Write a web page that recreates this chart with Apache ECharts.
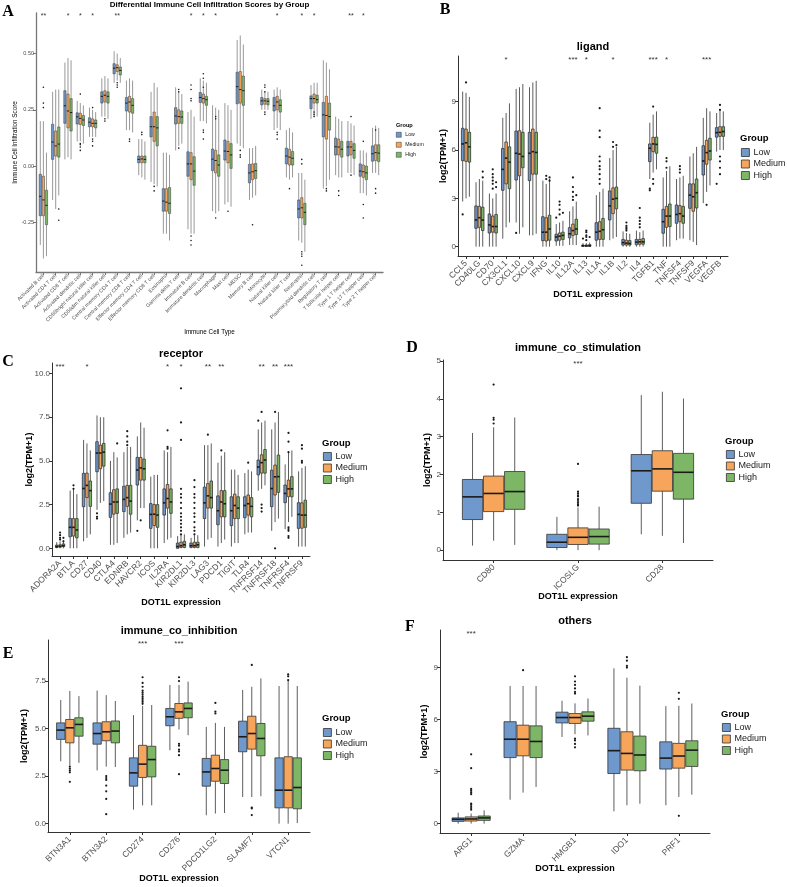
<!DOCTYPE html>
<html>
<head>
<meta charset="utf-8">
<title>DOT1L immune boxplots</title>
<script src="https://cdn.jsdelivr.net/npm/echarts@6.0.0/dist/echarts.min.js"></script>
<style>
  html, body { margin: 0; padding: 0; background: #fff; }
  #chart { width: 787px; height: 887px; }
</style>
</head>
<body>
<div id="chart"></div>
<script>
// groups & colours
const GROUPS = ['Low', 'Medium', 'High']
const COLORS = ['#6f98cc', '#f6a55b', '#7db766']

// ---- A: immune cell infiltration (box = [min, q1, median, q3, max])
const catsA = ['Activated B cell', 'Activated CD4 T cell', 'Activated CD8 T cell', 'Activated dendritic cell',
  'CD56bright natural killer cell', 'CD56dim natural killer cell', 'Central memory CD4 T cell', 'Central memory CD8 T cell',
  'Effector memory CD4 T cell', 'Effector memory CD8 T cell', 'Eosinophil', 'Gamma delta T cell', 'Immature B cell',
  'Immature dendritic cell', 'Macrophage', 'Mast cell', 'MDSC', 'Memory B cell', 'Monocyte', 'Natural killer cell',
  'Natural killer T cell', 'Neutrophil', 'Plasmacytoid dendritic cell', 'Regulatory T cell', 'T follicular helper cell',
  'Type 1 T helper cell', 'Type 17 T helper cell', 'Type 2 T helper cell']
const lowA = [[-0.35, -0.22, -0.134, -0.036, 0.2], [-0.15, 0.03, 0.107, 0.186, 0.33], [0.03, 0.19, 0.268, 0.335, 0.46],
  [0.11, 0.187, 0.219, 0.237, 0.29], [0.13, 0.175, 0.195, 0.215, 0.26], [0.22, 0.28, 0.31, 0.33, 0.39],
  [0.37, 0.41, 0.435, 0.455, 0.51], [0.16, 0.245, 0.28, 0.305, 0.38], [-0.04, 0.015, 0.03, 0.045, 0.12],
  [-0.07, 0.13, 0.175, 0.22, 0.33], [-0.3, -0.2, -0.155, -0.1, 0.06], [0.07, 0.187, 0.223, 0.26, 0.35],
  [-0.28, -0.045, 0.01, 0.064, 0.24], [0.2, 0.283, 0.305, 0.327, 0.39], [-0.2, -0.02, 0.031, 0.076, 0.27],
  [-0.17, 0.027, 0.067, 0.116, 0.28], [0.1, 0.277, 0.353, 0.417, 0.56], [-0.15, -0.074, -0.03, 0.008, 0.08],
  [0.25, 0.272, 0.29, 0.305, 0.34], [0.16, 0.245, 0.268, 0.305, 0.34], [-0.05, 0.01, 0.045, 0.08, 0.16],
  [-0.33, -0.23, -0.19, -0.15, -0.03], [0.21, 0.255, 0.3, 0.312, 0.36], [-0.1, 0.13, 0.228, 0.283, 0.47],
  [-0.04, 0.049, 0.086, 0.125, 0.22], [-0.03, 0.045, 0.085, 0.11, 0.2], [-0.12, -0.045, -0.022, 0.01, 0.07],
  [-0.03, 0.022, 0.055, 0.09, 0.17]]
const medA = [[-0.41, -0.22, -0.15, -0.045, 0.2], [-0.19, 0.045, 0.09, 0.156, 0.34], [0.04, 0.17, 0.245, 0.32, 0.48],
  [0.11, 0.185, 0.212, 0.235, 0.28], [0.13, 0.175, 0.19, 0.21, 0.25], [0.22, 0.285, 0.315, 0.335, 0.4],
  [0.38, 0.42, 0.437, 0.45, 0.5], [0.16, 0.24, 0.285, 0.31, 0.39], [-0.05, 0.015, 0.032, 0.045, 0.12],
  [-0.08, 0.11, 0.175, 0.24, 0.37], [-0.3, -0.2, -0.16, -0.1, 0.06], [0.09, 0.19, 0.22, 0.25, 0.33],
  [-0.3, -0.06, 0.01, 0.06, 0.25], [0.2, 0.28, 0.3, 0.32, 0.38], [-0.21, -0.03, 0.025, 0.07, 0.26],
  [-0.16, 0.015, 0.065, 0.11, 0.27], [0.09, 0.28, 0.34, 0.42, 0.58], [-0.14, -0.06, -0.025, 0.01, 0.08],
  [0.25, 0.275, 0.29, 0.3, 0.33], [0.17, 0.25, 0.285, 0.31, 0.35], [-0.06, 0.005, 0.04, 0.075, 0.17],
  [-0.34, -0.23, -0.185, -0.14, -0.03], [0.22, 0.28, 0.3, 0.32, 0.37], [-0.09, 0.12, 0.225, 0.31, 0.46],
  [-0.05, 0.05, 0.085, 0.12, 0.21], [-0.03, 0.05, 0.085, 0.11, 0.19], [-0.12, -0.05, -0.025, 0.005, 0.07],
  [-0.03, 0.025, 0.06, 0.095, 0.18]]
const highA = [[-0.4, -0.26, -0.174, -0.107, 0.06], [-0.13, 0.04, 0.098, 0.174, 0.34], [0.03, 0.156, 0.238, 0.3, 0.47],
  [0.1, 0.18, 0.205, 0.225, 0.27], [0.13, 0.17, 0.19, 0.205, 0.24], [0.21, 0.28, 0.31, 0.33, 0.39],
  [0.37, 0.405, 0.425, 0.44, 0.48], [0.15, 0.235, 0.27, 0.3, 0.38], [-0.06, 0.015, 0.03, 0.045, 0.11],
  [-0.09, 0.09, 0.17, 0.22, 0.35], [-0.33, -0.21, -0.165, -0.095, 0.05], [0.1, 0.19, 0.218, 0.245, 0.32],
  [-0.3, -0.085, -0.022, 0.042, 0.22], [0.19, 0.27, 0.295, 0.31, 0.37], [-0.2, -0.045, 0.005, 0.05, 0.25],
  [-0.18, -0.01, 0.05, 0.1, 0.25], [0.08, 0.27, 0.335, 0.4, 0.54], [-0.13, -0.055, -0.02, 0.012, 0.09],
  [0.25, 0.272, 0.288, 0.3, 0.33], [0.16, 0.24, 0.27, 0.295, 0.34], [-0.05, 0.005, 0.035, 0.065, 0.15],
  [-0.38, -0.26, -0.205, -0.165, -0.06], [0.22, 0.28, 0.295, 0.315, 0.37], [-0.06, 0.16, 0.22, 0.28, 0.43],
  [-0.05, 0.04, 0.075, 0.11, 0.2], [-0.04, 0.035, 0.07, 0.1, 0.18], [-0.13, -0.06, -0.03, 0.0, 0.06],
  [-0.04, 0.02, 0.058, 0.095, 0.17]]
const sigA = ['**', '', '*', '*', '*', '', '**', '', '', '', '', '', '*', '*', '*', '', '', '', '', '*', '', '*', '*', '', '', '**', '*', '']
// outliers: [category, value, group]
const outA = [[0, 0.35, 1], [0, 0.28, 1], [0, 0.26, 1], [1, -0.19, 2], [1, -0.24, 2], [3, 0.32, 1], [3, 0.1, 1], [3, 0.095, 1],
  [3, 0.085, 1], [3, 0.07, 1], [4, 0.26, 1], [4, 0.12, 1], [4, 0.11, 1], [4, 0.09, 1], [5, 0.2, 1], [5, 0.21, 1],
  [6, 0.37, 1], [6, 0.36, 1], [6, 0.35, 1], [7, 0.12, 1], [7, 0.11, 1], [8, 0.15, 1], [8, 0.14, 1], [9, -0.09, 1],
  [9, -0.11, 1], [11, 0.34, 1], [11, 0.33, 1], [11, 0.08, 1], [12, 0.36, 1], [12, 0.34, 1], [12, 0.3, 1], [12, 0.29, 1],
  [12, -0.31, 1], [12, -0.33, 1], [12, -0.35, 1], [13, 0.41, 1], [13, 0.39, 1], [13, 0.35, 1], [13, 0.16, 1],
  [13, 0.15, 1], [13, 0.12, 1], [14, 0.22, 1], [14, 0.21, 1], [14, -0.23, 1], [15, -0.2, 1], [16, 0.07, 1],
  [16, 0.05, 1], [16, 0.04, 1], [17, -0.26, 1], [18, 0.36, 1], [18, 0.35, 1], [18, 0.33, 1], [18, 0.24, 1],
  [18, 0.23, 1], [19, 0.15, 1], [19, 0.14, 1], [19, 0.12, 1], [20, -0.1, 1], [21, 0.03, 1], [21, 0.01, 1],
  [21, -0.38, 1], [21, -0.39, 1], [21, -0.4, 1], [21, -0.44, 1], [22, 0.24, 1], [22, 0.23, 1], [22, 0.22, 1],
  [23, -0.1, 1], [23, -0.11, 1], [24, -0.11, 1], [24, -0.13, 1], [25, 0.22, 1], [25, -0.04, 1], [26, 0.11, 1],
  [26, -0.17, 1], [26, -0.23, 1], [27, 0.16, 1], [27, -0.1, 1], [27, -0.12, 1]]
const ticksA = [-0.25, 0, 0.25, 0.5]

// ---- B: ligand
const catsB = ['CCL5', 'CD40LG', 'CD70', 'CX3CL1', 'CXCL10', 'CXCL9', 'IFNG', 'IL10', 'IL12A', 'IL13', 'IL1A', 'IL1B',
  'IL2', 'IL4', 'TGFB1', 'TNF', 'TNFSF4', 'TNFSF9', 'VEGFA', 'VEGFB']
const lowB = [[2.8, 5.34, 6.38, 7.35, 9.63], [0, 1.14, 1.66, 2.53, 4.0], [0, 0.85, 1.35, 2.03, 3.3], [0.5, 3.5, 4.8, 6.1, 8.0],
  [1.5, 4.14, 5.8, 7.18, 9.8], [0.7, 4.1, 5.8, 7.1, 9.9], [0, 0.37, 0.9, 1.86, 4.1], [0.05, 0.35, 0.6, 0.77, 1.4],
  [0.1, 0.55, 0.8, 1.18, 2.2], [0, 0.02, 0.05, 0.1, 0.22], [0, 0.4, 0.9, 1.49, 3.2], [0.4, 1.66, 2.53, 3.46, 5.5],
  [0, 0.1, 0.25, 0.45, 0.95], [0, 0.12, 0.28, 0.45, 1.0], [4.2, 5.28, 6.11, 6.38, 7.7], [0, 0.83, 1.55, 2.32, 4.3],
  [0.4, 1.45, 2.0, 2.59, 4.2], [0.4, 2.38, 3.2, 3.9, 5.6], [2.7, 4.45, 5.32, 6.27, 8.0], [5.9, 6.8, 7.08, 7.39, 8.3]]
const medB = [[3.0, 5.3, 6.45, 7.3, 9.55], [0, 1.2, 1.8, 2.5, 4.2], [0, 0.9, 1.25, 1.9, 3.0], [1.2, 3.9, 5.5, 6.5, 8.3],
  [0.8, 4.4, 5.75, 7.2, 9.9], [0.7, 4.5, 5.9, 7.3, 10.2], [0, 0.35, 0.9, 1.8, 3.9], [0.05, 0.4, 0.65, 0.85, 1.5],
  [0.1, 0.7, 1.0, 1.4, 2.5], [0, 0.02, 0.05, 0.1, 0.22], [0, 0.45, 0.95, 1.55, 3.4], [0.5, 2.05, 2.95, 3.65, 6.0],
  [0, 0.1, 0.22, 0.4, 0.85], [0, 0.15, 0.3, 0.45, 0.9], [4.6, 5.9, 6.38, 6.79, 8.2], [0, 1.2, 1.9, 2.5, 4.7],
  [0.5, 1.55, 2.05, 2.55, 4.3], [0.3, 2.2, 3.1, 3.9, 5.8], [3.4, 5.12, 5.84, 6.6, 8.6], [6.0, 6.85, 7.1, 7.45, 8.5]]
const highB = [[3.1, 5.25, 6.2, 7.1, 9.3], [0, 1.0, 1.65, 2.45, 4.1], [0, 0.85, 1.25, 2.0, 3.3], [1.5, 3.6, 5.25, 6.2, 8.9],
  [1.2, 4.9, 5.6, 7.1, 10.1], [0.8, 4.5, 5.85, 7.1, 10.3], [0, 0.4, 1.1, 1.95, 4.2], [0.05, 0.45, 0.7, 0.9, 1.6],
  [0.1, 0.75, 1.1, 1.7, 2.8], [0, 0.02, 0.06, 0.12, 0.25], [0, 0.45, 1.05, 1.75, 3.6], [0.6, 2.35, 3.0, 3.7, 6.2],
  [0, 0.1, 0.2, 0.38, 0.8], [0, 0.15, 0.3, 0.5, 1.0], [4.8, 5.8, 6.35, 6.8, 8.4], [0, 1.25, 1.9, 2.65, 5.0],
  [0.5, 1.45, 1.9, 2.5, 4.4], [0.1, 2.4, 3.35, 4.2, 6.2], [3.8, 5.38, 5.94, 6.73, 8.4], [6.0, 6.85, 7.15, 7.45, 8.4]]
const sigB = ['', '', '', '*', '', '', '', '', '***', '*', '', '*', '', '', '***', '*', '', '', '***', '']
const outB = [[0, 10.2, 1], [0, 2.0, 0], [1, 4.66, 2], [1, 4.3, 2], [2, 4.8, 1], [2, 4.5, 1], [2, 4.3, 1], [2, 4.1, 1],
  [2, 3.9, 1], [2, 3.6, 1], [2, 4.0, 2], [2, 3.7, 2], [4, 0.85, 0], [6, 4.4, 1], [6, 4.2, 1], [6, 4.1, 2], [6, 4.3, 2],
  [7, 2.8, 1], [7, 2.6, 1], [7, 2.3, 1], [7, 2.0, 1], [7, 1.8, 0], [7, 2.1, 2], [8, 4.3, 1], [8, 3.7, 1], [8, 3.4, 1],
  [8, 3.1, 1], [8, 2.9, 1], [8, 3.2, 2], [9, 0.6, 1], [9, 0.7, 1], [9, 0.9, 1], [9, 1.0, 1], [9, 0.4, 1], [9, 0.5, 0],
  [9, 0.6, 2], [10, 8.6, 1], [10, 7.2, 1], [10, 6.8, 1], [10, 5.6, 1], [10, 5.3, 1], [10, 5.0, 1], [10, 4.8, 1],
  [10, 4.5, 1], [10, 4.2, 1], [10, 3.9, 1], [11, 6.3, 2], [11, 6.2, 1], [11, 6.5, 1], [12, 1.5, 1], [12, 1.3, 1],
  [12, 1.2, 1], [12, 1.1, 1], [12, 1.0, 1], [13, 2.4, 1], [13, 1.8, 1], [13, 1.6, 1], [13, 1.4, 1], [13, 1.2, 1],
  [14, 8.7, 1], [14, 3.6, 0], [14, 3.5, 0], [14, 3.9, 1], [14, 4.2, 1], [15, 5.5, 1], [15, 5.3, 1], [15, 4.9, 1],
  [16, 5.0, 1], [16, 4.8, 1], [16, 4.6, 1], [18, 2.6, 1], [19, 8.8, 1], [19, 8.5, 1], [19, 5.6, 1], [19, 5.3, 1],
  [19, 4.9, 1], [19, 4.5, 1], [19, 3.9, 0]]
const ticksB = [0, 3, 6, 9]

// ---- C: receptor
const catsC = ['ADORA2A', 'BTLA', 'CD27', 'CD40', 'CTLA4', 'EDNRB', 'HAVCR2', 'ICOS', 'IL2RA', 'KIR2DL1', 'KIR2DL3',
  'LAG3', 'PDCD1', 'TIGIT', 'TLR4', 'TNFRSF14', 'TNFRSF18', 'TNFRSF4', 'TNFRSF9']
const lowC = [[0, 0.05, 0.1, 0.18, 0.35], [0, 0.66, 1.2, 1.71, 3.3], [0.4, 2.38, 3.42, 4.29, 6.2], [2.2, 4.38, 5.45, 6.1, 7.6],
  [0.2, 1.77, 2.53, 3.18, 5.0], [0.6, 2.1, 2.8, 3.55, 5.5], [1.6, 3.62, 4.48, 5.2, 6.4], [0, 1.14, 1.94, 2.56, 4.1],
  [0.3, 1.9, 2.6, 3.4, 5.6], [0, 0.0, 0.1, 0.3, 0.7], [0, 0.05, 0.15, 0.3, 0.6], [0.1, 1.7, 2.6, 3.5, 5.9],
  [0.1, 1.35, 2.15, 3.0, 4.9], [0.1, 1.3, 2.15, 2.95, 4.5], [0.8, 1.75, 2.45, 2.95, 4.3], [3.3, 4.2, 4.65, 5.05, 6.8],
  [1.0, 2.38, 3.42, 4.47, 6.8], [1.1, 2.61, 3.14, 3.62, 4.8], [0.1, 1.14, 1.94, 2.61, 4.4]]
const medC = [[0, 0.06, 0.12, 0.2, 0.4], [0, 0.7, 1.2, 1.7, 3.4], [0.6, 2.9, 3.6, 4.3, 6.0], [2.6, 4.55, 5.45, 5.9, 7.5],
  [0.2, 1.95, 2.65, 3.35, 5.5], [0.8, 2.4, 2.9, 3.6, 5.8], [2.3, 3.9, 4.6, 5.2, 7.2], [0, 1.3, 1.95, 2.5, 4.2],
  [0.5, 2.3, 2.85, 3.65, 5.5], [0, 0.05, 0.15, 0.35, 0.8], [0, 0.05, 0.15, 0.35, 0.75], [0.5, 2.3, 3.0, 3.7, 5.9],
  [0.3, 1.8, 2.65, 3.3, 5.3], [0.3, 1.7, 2.45, 3.1, 4.5], [0.9, 1.9, 2.55, 3.05, 4.5], [3.4, 4.3, 4.9, 5.35, 7.2],
  [1.5, 3.05, 4.09, 4.76, 7.2], [1.5, 2.95, 3.4, 3.9, 5.5], [0.1, 1.15, 1.9, 2.6, 4.6]]
const highC = [[0, 0.1, 0.15, 0.25, 0.45], [0, 0.6, 1.05, 1.7, 3.1], [0.8, 2.4, 3.3, 3.85, 5.6], [2.7, 4.7, 5.5, 6.0, 7.5],
  [0.3, 2.0, 2.65, 3.4, 5.2], [0.9, 1.95, 2.7, 3.6, 5.8], [2.3, 3.9, 4.55, 5.1, 6.9], [0, 1.2, 1.9, 2.5, 4.2],
  [0.6, 2.0, 2.65, 3.4, 5.8], [0, 0.05, 0.2, 0.4, 0.8], [0, 0.05, 0.2, 0.35, 0.75], [0.6, 2.3, 2.9, 3.85, 6.0],
  [0.5, 1.8, 2.55, 3.3, 5.5], [0.3, 1.7, 2.3, 2.95, 4.2], [0.9, 1.8, 2.4, 2.9, 4.4], [3.6, 4.3, 5.05, 5.65, 7.3],
  [1.7, 3.2, 4.1, 5.33, 7.8], [1.8, 2.95, 3.4, 4.1, 5.6], [0.1, 1.2, 1.9, 2.75, 4.7]]
const sigC = ['***', '', '*', '', '', '', '', '', '*', '*', '', '**', '**', '', '', '**', '**', '***', '']
const outC = [[0, 0.9, 1], [0, 0.75, 1], [0, 0.6, 1], [0, 0.5, 1], [0, 0.4, 2], [0, 0.6, 2], [1, 3.4, 1], [1, 3.6, 1],
  [3, 2.0, 0], [3, 1.8, 0], [3, 1.7, 0], [4, 6.0, 2], [5, 5.9, 1], [5, 6.1, 1], [5, 6.4, 1], [5, 6.7, 1], [6, 1.0, 0],
  [6, 1.6, 1], [8, 5.7, 1], [8, 5.8, 1], [8, 6.75, 1], [9, 9.15, 1], [9, 7.2, 1], [9, 6.2, 1], [9, 3.4, 1], [9, 3.1, 1],
  [9, 2.9, 1], [9, 2.6, 1], [9, 2.3, 1], [9, 2.0, 1], [9, 1.8, 1], [9, 1.6, 1], [9, 1.4, 1], [9, 1.2, 1], [9, 1.0, 1],
  [9, 0.8, 1], [10, 3.9, 1], [10, 3.5, 1], [10, 3.1, 1], [10, 2.9, 1], [10, 2.6, 1], [10, 2.3, 1], [10, 2.0, 1],
  [10, 1.8, 1], [10, 1.5, 1], [10, 1.2, 1], [10, 1.0, 1], [10, 0.8, 1], [11, 6.5, 1], [12, 5.6, 1], [14, 4.9, 1],
  [15, 7.3, 0], [15, 7.8, 1], [15, 2.5, 1], [15, 2.3, 1], [15, 2.1, 1], [16, 0.0, 1], [16, 7.8, 1], [17, 6.6, 1],
  [17, 6.1, 1], [17, 5.5, 1], [17, 1.2, 1], [17, 1.1, 1], [17, 1.0, 1], [17, 0.7, 1], [17, 0.6, 1], [18, 5.9, 1],
  [18, 5.7, 1], [18, 5.0, 1], [18, 4.9, 1]]
const ticksC = [0, 2.5, 5, 7.5, 10]

// ---- D: immune_co_stimulation
const catsD = ['CD80', 'ICOSLG', 'CD28']
const lowD = [[0.12, 0.81, 1.41, 1.87, 3.1], [0, 0.07, 0.21, 0.42, 0.88], [0.42, 1.24, 2.1, 2.53, 4.1]]
const medD = [[0.25, 1.02, 1.5, 1.96, 3.25], [0, 0.15, 0.34, 0.59, 1.13], [0.38, 1.56, 2.15, 2.63, 4.19]]
const highD = [[0.14, 1.08, 1.55, 2.08, 3.51], [0, 0.16, 0.36, 0.56, 1.15], [0.19, 1.35, 2.06, 2.56, 4.01]]
const sigD = ['', '***', '']
const outD = [[0, 4.38, 1], [0, 3.5, 1], [0, 3.45, 1], [0, 3.35, 1], [1, 2.28, 1], [1, 1.55, 1], [1, 1.5, 1],
  [1, 1.45, 1], [1, 1.42, 1], [1, 1.35, 1], [1, 1.3, 1], [1, 1.25, 1], [1, 1.2, 1], [1, 1.18, 1]]
const ticksD = [0, 1, 2, 3, 4, 5]

// ---- E: immune_co_inhibition
const catsE = ['BTN3A1', 'BTN3A2', 'CD274', 'CD276', 'PDCD1LG2', 'SLAMF7', 'VTCN1']
const lowE = [[3.28, 4.43, 4.92, 5.3, 6.5], [2.8, 4.18, 4.74, 5.3, 7.0], [0.74, 1.97, 2.67, 3.46, 5.71],
  [3.86, 5.15, 5.62, 6.06, 7.29], [0.44, 1.97, 2.72, 3.43, 5.09], [1.4, 3.78, 4.57, 5.39, 7.03], [0, 0.83, 1.76, 3.46, 7.24]]
const medE = [[3.07, 4.25, 5.04, 5.48, 6.98], [3.0, 4.36, 4.83, 5.36, 6.76], [0.96, 2.43, 3.13, 4.12, 6.2],
  [4.95, 5.54, 5.88, 6.32, 7.3], [0.53, 2.23, 2.9, 3.6, 5.3], [1.4, 3.92, 4.74, 5.65, 7.2], [0, 0.83, 1.76, 3.52, 7.55]]
const highE = [[3.2, 4.6, 5.22, 5.57, 6.71], [2.98, 4.25, 4.87, 5.4, 6.45], [0.96, 2.46, 3.37, 4.07, 6.24],
  [4.65, 5.57, 6.06, 6.35, 7.47], [0.56, 2.11, 2.81, 3.37, 5.09], [1.44, 3.57, 4.48, 5.27, 7.64], [0.03, 0.78, 1.9, 3.46, 7.24]]
const sigE = ['', '', '***', '***', '', '', '']
const outE = [[0, 3.0, 1], [0, 2.9, 1], [0, 2.8, 1], [0, 2.7, 1], [0, 2.2, 1], [1, 2.5, 1], [1, 2.4, 1], [1, 2.3, 1],
  [1, 2.0, 1], [1, 1.7, 1], [1, 1.3, 1], [1, 0.5, 1], [2, 7.7, 1], [2, 7.4, 1], [2, 7.2, 1], [2, 7.0, 1], [2, 6.9, 1],
  [2, 6.8, 1], [2, 6.7, 1], [2, 6.6, 1], [2, 6.5, 1], [2, 6.4, 1], [2, 6.3, 1], [3, 7.7, 1], [3, 7.5, 1], [3, 4.2, 1],
  [3, 4.1, 1], [3, 3.9, 1], [3, 3.8, 1], [3, 3.6, 1], [3, 2.6, 1], [4, 6.35, 1], [4, 5.9, 1], [4, 5.8, 1], [5, 8.35, 1],
  [5, 0.85, 1], [5, 0.8, 1], [5, 0.45, 1], [6, 7.55, 1], [6, 7.75, 1], [6, 7.85, 1]]
const ticksE = [0, 2.5, 5, 7.5]

// ---- F: others
const catsF = ['ARG1', 'GZMA', 'HMGB1', 'IDO1', 'PRF1']
const lowF = [[0, 0.13, 0.25, 0.33, 0.63], [1.38, 3.81, 4.87, 5.88, 7.94], [5.0, 5.81, 6.12, 6.43, 7.09],
  [0.71, 2.89, 4.21, 5.5, 8.96], [1.06, 3.15, 3.78, 4.72, 6.78]]
const medF = [[0, 0.15, 0.27, 0.39, 0.58], [1.79, 3.91, 4.87, 5.68, 7.94], [5.16, 5.78, 6.12, 6.35, 6.94],
  [1.06, 3.09, 4.05, 5.3, 8.42], [1.54, 3.2, 3.9, 4.63, 6.8]]
const highF = [[0, 0.19, 0.33, 0.44, 0.77], [2.12, 3.81, 4.74, 5.64, 7.94], [5.09, 5.91, 6.2, 6.45, 7.22],
  [1.15, 3.05, 3.96, 5.05, 7.96], [1.67, 3.3, 4.24, 4.78, 6.93]]
const sigF = ['***', '', '', '', '']
const outF = [[0, 4.0, 1], [0, 3.2, 1], [0, 2.0, 1], [0, 1.9, 1], [0, 1.8, 1], [0, 1.7, 1], [0, 1.15, 1], [0, 1.1, 1],
  [0, 1.0, 1], [0, 0.9, 1], [0, 0.8, 1], [1, 8.85, 1], [2, 8.5, 1], [2, 8.2, 1], [2, 8.0, 1], [2, 7.8, 1], [2, 7.6, 1],
  [2, 7.5, 1], [2, 4.9, 1], [2, 4.8, 1], [2, 4.6, 1], [2, 4.4, 1], [3, 9.6, 1], [3, 9.4, 1], [3, 9.1, 1], [3, 9.0, 1],
  [4, 7.55, 1], [4, 7.2, 1], [4, 0.45, 1]]
const ticksF = [0, 3, 6, 9]

const panels = [
  { id: 'A', cats: catsA, boxes: [lowA, medA, highA], sig: sigA, out: outA, ticks: ticksA, digits: 2,
    title: 'Differential Immune Cell Infiltration Scores by Group', xTitle: 'Immune Cell Type', yTitle: 'Immune Cell Infiltration Score' },
  { id: 'B', cats: catsB, boxes: [lowB, medB, highB], sig: sigB, out: outB, ticks: ticksB, digits: 0,
    title: 'ligand', xTitle: 'DOT1L expression', yTitle: 'log2(TPM+1)' },
  { id: 'C', cats: catsC, boxes: [lowC, medC, highC], sig: sigC, out: outC, ticks: ticksC, digits: 1,
    title: 'receptor', xTitle: 'DOT1L expression', yTitle: 'log2(TPM+1)' },
  { id: 'D', cats: catsD, boxes: [lowD, medD, highD], sig: sigD, out: outD, ticks: ticksD, digits: 0,
    title: 'immune_co_stimulation', xTitle: 'DOT1L expression', yTitle: 'log2(TPM+1)' },
  { id: 'E', cats: catsE, boxes: [lowE, medE, highE], sig: sigE, out: outE, ticks: ticksE, digits: 1,
    title: 'immune_co_inhibition', xTitle: 'DOT1L expression', yTitle: 'log2(TPM+1)' },
  { id: 'F', cats: catsF, boxes: [lowF, medF, highF], sig: sigF, out: outF, ticks: ticksF, digits: 0,
    title: 'others', xTitle: 'DOT1L expression', yTitle: 'log2(TPM+1)' }
]

// layout of each panel (pixels)
const frames = {
  A: { left: 36, top: 13, width: 347, height: 259, yMin: -0.47, yMax: 0.68, small: true, letter: [8, 12], titleY: 5,
    legend: [396, 132], groupTitle: [396, 125], xTitleY: 332, yTitleX: 15 },
  B: { left: 458, top: 56, width: 270, height: 200, yMin: -0.58, yMax: 11.84, letter: [445, 10], titleY: 47,
    legend: [741, 148], groupTitle: [740, 138], xTitleY: 295, yTitleX: 444 },
  C: { left: 52, top: 363, width: 258, height: 193, yMin: -0.44, yMax: 10.6, letter: [8, 362], titleY: 354,
    legend: [323, 452], groupTitle: [322, 443], xTitleY: 603, yTitleX: 30 },
  D: { left: 443, top: 360, width: 270, height: 200, yMin: -0.26, yMax: 5.03, letter: [412, 348], titleY: 348,
    legend: [726, 450], groupTitle: [725, 441], xTitleY: 597, yTitleX: 428 },
  E: { left: 48, top: 640, width: 262, height: 192, yMin: -0.44, yMax: 9.66, letter: [8, 654], titleY: 631,
    legend: [323, 728], groupTitle: [322, 718], xTitleY: 879, yTitleX: 25 },
  F: { left: 440, top: 630, width: 270, height: 203, yMin: -0.54, yMax: 11.17, letter: [410, 627], titleY: 621,
    legend: [722, 723], groupTitle: [721, 714], xTitleY: 869, yTitleX: 425 }
}

const SIZE_SMALL = { tick: 5.5, cat: 5.2, catMargin: 3, axisTitle: 6.3, axisBold: 'normal', title: 8, legend: 5.2,
  legendTitle: 5.6, key: 5, gap: 4.5, star: 7, lw: 0.5, r: 0.8, axisColor: '#777', axisWidth: 1.3 }
const SIZE_NORMAL = { tick: 8, cat: 8.5, catMargin: 6, axisTitle: 9, axisBold: 'bold', title: 11, legend: 9,
  legendTitle: 9.5, key: 8, gap: 2.5, star: 8, lw: 0.8, r: 1.1, axisColor: '#333', axisWidth: 1 }

const FONT = '"Liberation Sans", Arial, sans-serif'
const SERIF = '"Liberation Serif", "Times New Roman", serif'

function boxRenderer(g, lw) {
  return function (params, api) {
    const k = api.value(0)
    const unit = api.size([1, 0])[0]
    const cx = api.coord([k, 0])[0] + (g - 1) * unit * 0.25
    const half = unit * 0.125 - 0.4
    const y = [1, 2, 3, 4, 5].map(d => api.coord([k, api.value(d)])[1])
    const edge = { stroke: '#333', lineWidth: lw }
    return {
      type: 'group',
      children: [
        { type: 'line', shape: { x1: cx, y1: y[4], x2: cx, y2: y[3] }, style: edge },
        { type: 'line', shape: { x1: cx, y1: y[1], x2: cx, y2: y[0] }, style: edge },
        { type: 'rect', shape: { x: cx - half, y: y[3], width: half * 2, height: y[1] - y[3] },
          style: { fill: api.visual('color'), stroke: '#333', lineWidth: lw } },
        { type: 'line', shape: { x1: cx - half, y1: y[2], x2: cx + half, y2: y[2] },
          style: { stroke: '#1a1a1a', lineWidth: lw * 2 } }
      ]
    }
  }
}

function outlierRenderer(r) {
  return function (params, api) {
    const unit = api.size([1, 0])[0]
    const p = api.coord([api.value(0), api.value(1)])
    return { type: 'circle', shape: { cx: p[0] + (api.value(2) - 1) * unit * 0.25, cy: p[1], r }, style: { fill: '#1a1a1a' } }
  }
}

function starRenderer(sig, fontSize) {
  return function (params, api) {
    const k = api.value(0)
    return {
      type: 'text',
      x: api.coord([k, 0])[0],
      y: params.coordSys.y,
      style: { text: sig[k], align: 'center', verticalAlign: 'top', fontSize, fontFamily: FONT, fill: '#333' }
    }
  }
}

function label(text, x, y, size, weight, opts) {
  return Object.assign({
    type: 'text', x, y, silent: true,
    style: { text, fontSize: size, fontWeight: weight, fontFamily: FONT, fill: '#000',
      align: 'center', verticalAlign: 'middle', textAlign: 'center', textVerticalAlign: 'middle' }
  }, opts || {})
}

const grid = [], xAxis = [], yAxis = [], series = [], legend = [], graphics = []

panels.forEach((p, i) => {
  const f = frames[p.id]
  const st = f.small ? SIZE_SMALL : SIZE_NORMAL
  const n = p.cats.length
  const idx = p.cats.map((c, k) => k)
  const cx = f.left + f.width / 2

  grid.push({ left: f.left, top: f.top, width: f.width, height: f.height })
  xAxis.push({
    gridIndex: i, type: 'value', min: -0.6, max: n - 0.4,
    splitLine: { show: false },
    axisLine: { show: true, onZero: false, lineStyle: { color: st.axisColor, width: st.axisWidth } },
    axisTick: { show: true, customValues: idx, length: 3, lineStyle: { color: st.axisColor } },
    axisLabel: { customValues: idx, rotate: 45, margin: st.catMargin, fontSize: st.cat, fontFamily: FONT, color: '#4d4d4d',
      formatter: v => p.cats[Math.round(v)] }
  })
  yAxis.push({
    gridIndex: i, type: 'value', min: f.yMin, max: f.yMax,
    splitLine: { show: false },
    axisLine: { show: true, onZero: false, lineStyle: { color: st.axisColor, width: st.axisWidth } },
    axisTick: { show: true, customValues: p.ticks, length: 3, lineStyle: { color: st.axisColor } },
    axisLabel: { customValues: p.ticks, margin: 2, fontSize: st.tick, fontFamily: FONT, color: '#4d4d4d',
      formatter: v => v.toFixed(p.digits) }
  })

  p.boxes.forEach((b, g) => {
    series.push({
      type: 'custom', name: GROUPS[g], xAxisIndex: i, yAxisIndex: i,
      itemStyle: { color: COLORS[g] },
      data: b.map((d, k) => [k].concat(d)),
      encode: { x: 0, y: [1, 2, 3, 4, 5] },
      renderItem: boxRenderer(g, st.lw)
    })
  })
  series.push({
    type: 'custom', name: 'outliers ' + p.id, xAxisIndex: i, yAxisIndex: i, silent: true, z: 3,
    data: p.out, encode: { x: 0, y: 1 }, renderItem: outlierRenderer(st.r)
  })
  series.push({
    type: 'custom', name: 'signif ' + p.id, xAxisIndex: i, yAxisIndex: i, silent: true,
    data: idx.filter(k => p.sig[k]).map(k => [k, f.yMax]), encode: { x: 0, y: 1 },
    renderItem: starRenderer(p.sig, st.star)
  })

  legend.push({
    data: GROUPS, orient: 'vertical', left: f.legend[0], top: f.legend[1], padding: 0,
    itemWidth: st.key, itemHeight: st.key, itemGap: st.gap, icon: 'rect', selectedMode: false,
    itemStyle: { borderColor: '#333', borderWidth: st.lw },
    textStyle: { fontSize: st.legend, fontFamily: FONT, color: '#1a1a1a', padding: [0, 0, 0, -1] }
  })

  graphics.push(label(p.id, f.letter[0], f.letter[1], 16, 'bold',
    { style: { text: p.id, fontSize: 16, fontWeight: 'bold', fontFamily: SERIF, fill: '#000',
      align: 'center', verticalAlign: 'middle', textAlign: 'center', textVerticalAlign: 'middle' } }))
  graphics.push(label(p.title, cx, f.titleY, st.title, 'bold'))
  graphics.push(label(p.xTitle, cx, f.xTitleY, st.axisTitle, st.axisBold))
  graphics.push(label(p.yTitle, f.yTitleX, f.top + f.height / 2, st.axisTitle, st.axisBold, { rotation: Math.PI / 2 }))
  graphics.push(label('Group', f.groupTitle[0], f.groupTitle[1], st.legendTitle, 'bold',
    { style: { text: 'Group', fontSize: st.legendTitle, fontWeight: 'bold', fontFamily: FONT, fill: '#000',
      align: 'left', verticalAlign: 'middle', textAlign: 'left', textVerticalAlign: 'middle' } }))
})

const chart = echarts.init(document.getElementById('chart'), null, { renderer: 'canvas' })
chart.setOption({
  backgroundColor: '#fff',
  animation: false,
  grid, xAxis, yAxis, series, legend,
  graphic: { elements: graphics }
})
</script>
</body>
</html>
